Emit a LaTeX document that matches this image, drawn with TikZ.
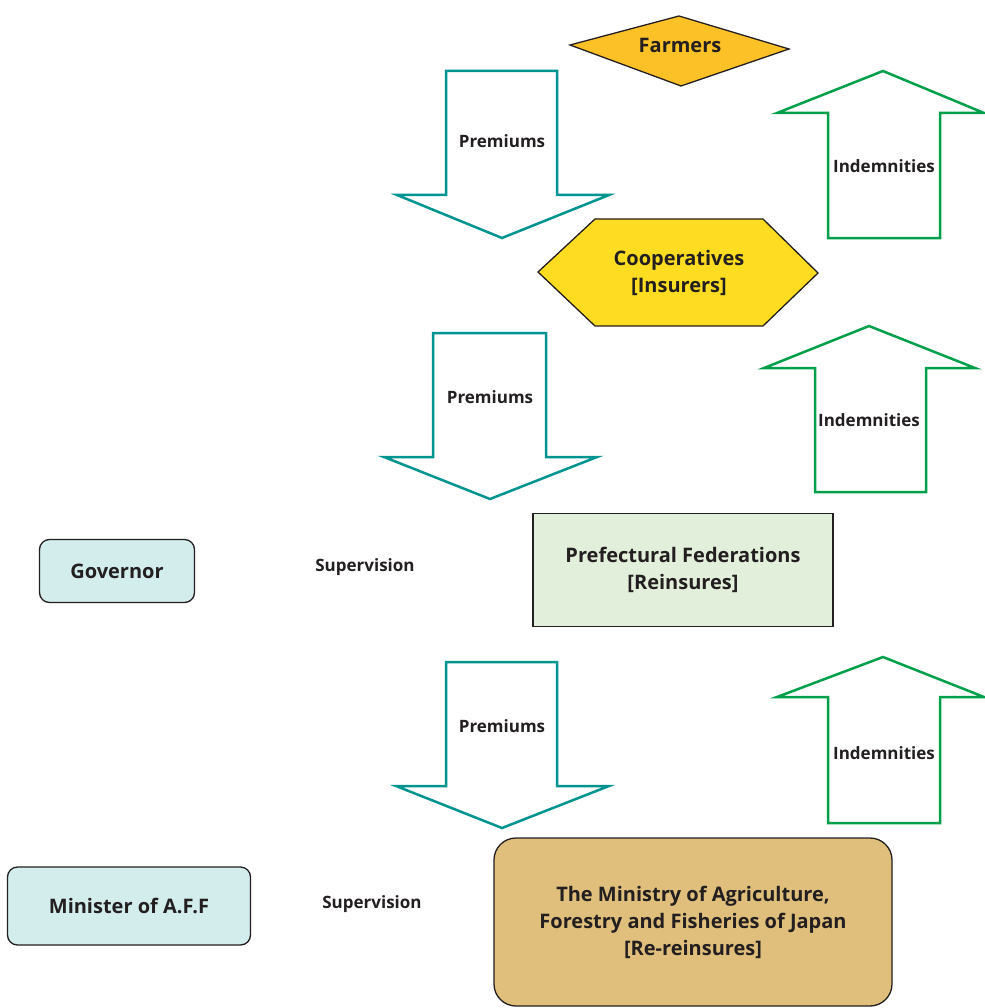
\documentclass[tikz,border=0pt]{standalone}
\usepackage{fontspec}
\setmainfont{Open Sans}
\usepackage{tikz}
\usetikzlibrary{positioning}

\definecolor{premcol}{HTML}{009490}
\definecolor{indemcol}{HTML}{00A04A}
\definecolor{textcol}{HTML}{231F20}
\definecolor{farmfill}{HTML}{FDC128}
\definecolor{coopfill}{HTML}{FEDC22}
\definecolor{preffill}{HTML}{E2EFDA}
\definecolor{govfill}{HTML}{D3ECEC}
\definecolor{minfill}{HTML}{DFBF7B}

\begin{document}
\begin{tikzpicture}[x=1pt,y=-1pt,
	every node/.style={text=textcol, font=\bfseries, align=center},
	bigtext/.style={font=\bfseries\fontsize{20}{27}\selectfont},
	flowtext/.style={font=\bfseries\fontsize{17}{20}\selectfont},
	premarrow/.style={draw=premcol, line width=2.5pt, fill=white},
	indemarrow/.style={draw=indemcol, line width=2.5pt, fill=white},
	outline/.style={draw=textcol, line width=1.3pt},
	boss/.style={outline, fill=govfill, rounded corners=10pt, bigtext}]
	
	\useasboundingbox (0,0) rectangle (984,1008);
	
	% farmers and cooperatives
	\draw[outline, fill=farmfill] (570,45) -- (679,16) -- (789,49) -- (681,86) -- cycle;
	\node[bigtext] (farmers) at (680,45) {Farmers};
	\draw[outline, fill=coopfill] (538,272) -- (595,219) -- (763,219) -- (818,273) -- (763,326) -- (595,326) -- cycle;
	\node[bigtext] (coop) at (679,273) {Cooperatives\\{}[Insurers]};
	
	% prefectural level
	\node[outline, fill=preffill, minimum width=300pt, minimum height=113pt, bigtext] (pref) at (683,570) {Prefectural Federations\\{}[Reinsures]};
	\node[boss, minimum width=155pt, minimum height=63pt] (gov) at (117,571) {Governor};
	\node[flowtext] (sup1) at (365,567) {Supervision};
	
	% national level
	\node[outline, fill=minfill, rounded corners=22pt, minimum width=398pt, minimum height=168pt, bigtext] (mini) at (693,922) {The Ministry of Agriculture,\\Forestry and Fisheries of Japan\\{}[Re-reinsures]};
	\node[boss, minimum width=243pt, minimum height=78pt] (minister) at (129,906) {Minister of A.F.F};
	\node[flowtext] (sup2) at (372,904) {Supervision};
	
	% premiums going down
	\draw[premarrow] (446,71) -- (557,71) -- (557,195) -- (609,195) -- (502,238) -- (397,195) -- (446,195) -- cycle;
	\node[flowtext] (prem1) at (502,141) {Premiums};
	\draw[premarrow] (433,333) -- (546,333) -- (546,457) -- (597,457) -- (490,499) -- (384,457) -- (433,457) -- cycle;
	\node[flowtext] (prem2) at (490,397) {Premiums};
	\draw[premarrow] (446,662) -- (557,662) -- (557,786) -- (609,786) -- (502,828) -- (396,786) -- (446,786) -- cycle;
	\node[flowtext] (prem3) at (502,726) {Premiums};
	
	% indemnities going up
	\draw[indemarrow] (828,238) -- (828,113) -- (777,113) -- (883,71) -- (984,113) -- (940,113) -- (940,238) -- cycle;
	\node[flowtext] (indem1) at (884,166) {Indemnities};
	\draw[indemarrow] (815,492) -- (815,368) -- (764,368) -- (869,326) -- (975,368) -- (926,368) -- (926,492) -- cycle;
	\node[flowtext] (indem2) at (869,420) {Indemnities};
	\draw[indemarrow] (828,823) -- (828,697) -- (777,697) -- (883,657) -- (984,697) -- (940,697) -- (940,823) -- cycle;
	\node[flowtext] (indem3) at (884,753) {Indemnities};
	
\end{tikzpicture}
\end{document}
